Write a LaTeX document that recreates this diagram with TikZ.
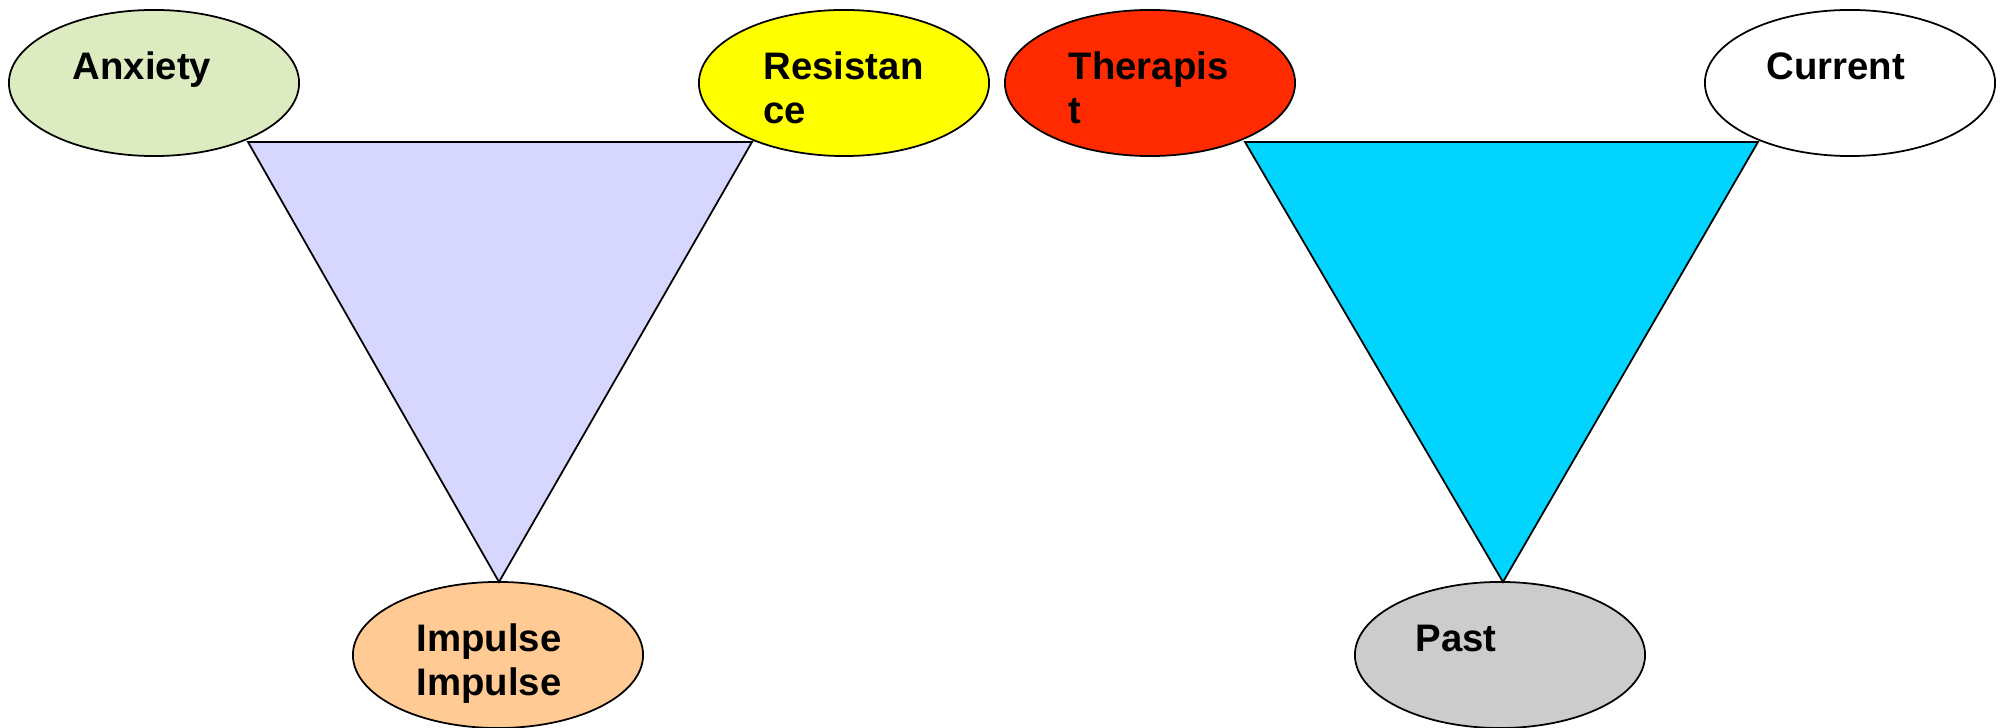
\documentclass[tikz,border=0pt]{standalone}
\usepackage{fontspec}
\setmainfont{Liberation Sans}
\usetikzlibrary{shapes.geometric}

\definecolor{anxgreen}{HTML}{DDEBC0}
\definecolor{resyellow}{HTML}{FFFF00}
\definecolor{therred}{HTML}{FF2A00}
\definecolor{impulsepeach}{HTML}{FFCA94}
\definecolor{pastgrey}{HTML}{CCCCCC}
\definecolor{lavender}{HTML}{D6D6FF}
\definecolor{skycyan}{HTML}{00D4FF}

\begin{document}
\begin{tikzpicture}[x=0.01cm,y=-0.01cm,
    blob/.style={ellipse,draw,line width=0.5pt,minimum width=2.9cm,minimum height=1.46cm,inner sep=0pt},
    word/.style={anchor=base west,align=left,inner sep=0pt,font=\bfseries\fontsize{10.9}{12.5}\selectfont},
    wedge/.style={draw,line width=0.5pt,line join=miter}]
      \useasboundingbox (0,0) rectangle (2002,728);

      \node[blob,fill=anxgreen] (1) at (154,83) {};
      \node[blob,fill=resyellow] (2) at (844,83) {};
      \node[blob,fill=impulsepeach] (3) at (498,655) {};
      \node[blob,fill=therred] (4) at (1150,83) {};
      \node[blob,fill=white] (5) at (1850,83) {};
      \node[blob,fill=pastgrey] (6) at (1500,655) {};

      % two-line texts: base is the last line, so shift up one line
      \node[word,xshift=-0.82cm,yshift=0.035cm] (1t) at (1.center) {Anxiety};
      \node[word,xshift=-0.81cm,yshift=-0.405cm] (2t) at (2.center) {Resistan\\ce};
      \node[word,xshift=-0.82cm,yshift=-0.405cm] (3t) at (3.center) {Impulse\\Impulse};
      \node[word,xshift=-0.82cm,yshift=-0.405cm] (4t) at (4.center) {Therapis\\t};
      \node[word,xshift=-0.84cm,yshift=0.035cm] (5t) at (5.center) {Current};
      \node[word,xshift=-0.85cm,yshift=0.035cm] (6t) at (6.center) {Past};

      \coordinate (a1) at (248,142);
      \coordinate (a2) at (752,142);
      \coordinate (a3) at (499,582);
      \coordinate (b1) at (1245,142);
      \coordinate (b2) at (1758,142);
      \coordinate (b3) at (1503,582);

      \draw[wedge,fill=lavender] (a1) -- (a2) -- (a3) -- cycle;
      \draw[wedge,fill=skycyan] (b1) -- (b2) -- (b3) -- cycle;
    \end{tikzpicture}
\end{document}
